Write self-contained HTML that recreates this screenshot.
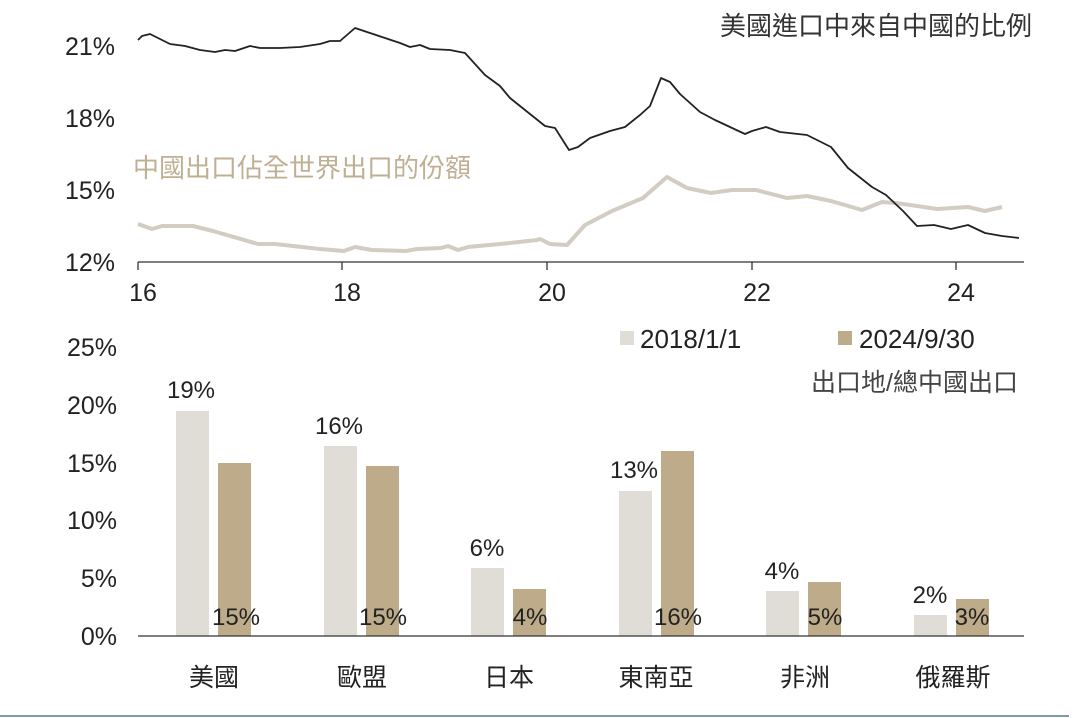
<!DOCTYPE html>
<html><head><meta charset="utf-8"><style>
html,body{margin:0;padding:0;background:#fff;}
svg{display:block;}
text{font-family:"Liberation Sans","Noto Sans CJK TC",sans-serif;fill:#222;}
</style></head><body>
<svg width="1077" height="718" viewBox="0 0 1077 718" xmlns="http://www.w3.org/2000/svg">
<rect width="1077" height="718" fill="#fff"/>
<!-- Top chart -->
<g font-size="25">
<text x="115" y="55" text-anchor="end">21%</text>
<text x="115" y="127" text-anchor="end">18%</text>
<text x="115" y="199" text-anchor="end">15%</text>
<text x="115" y="271" text-anchor="end">12%</text>
</g>
<line x1="138" y1="262" x2="1024" y2="262" stroke="#333" stroke-width="1.3"/>
<g stroke="#333" stroke-width="1.3">
<line x1="138" y1="262" x2="138" y2="270"/><line x1="342" y1="262" x2="342" y2="270"/>
<line x1="547" y1="262" x2="547" y2="270"/><line x1="752" y1="262" x2="752" y2="270"/>
<line x1="956" y1="262" x2="956" y2="270"/>
</g>
<g font-size="25" text-anchor="middle">
<text x="143" y="301">16</text><text x="347" y="301">18</text><text x="552" y="301">20</text>
<text x="757" y="301">22</text><text x="961" y="301">24</text>
</g>
<polyline fill="none" stroke="#d2ccc3" stroke-width="4" stroke-linejoin="round" points="138,224 152,229 162,226 193,226 213,231 258,244 275,244 320,249 344,251 355,247 372,250 406,251 417,249 441,248 448,246 458,250 468,247 510,243 537,240 540,239 550,244 567,245 585,225 612,211 643,198 667,177 687,188 711,193 732,190 756,190 787,198 807,196 831,201 862,210 882,202 896,203 917,206 937,209 968,207 985,211 1002,207"/>
<polyline fill="none" stroke="#222" stroke-width="1.8" stroke-linejoin="round" points="138,40 142,36 150,34 170,44 185,46 200,50 215,52 225,50 235,51 250,46 260,48 280,48 300,47 320,44 330,41 340,41 355,28 370,33 385,38 400,43 410,47 420,45 430,49 450,50 465,53 485,75 500,86 510,98 525,110 545,126 555,128 569,150 578,147 590,138 610,131 625,127 640,115 650,106 661,78 670,82 680,94 700,112 715,120 730,127 745,134 752,131 766,127 780,132 807,135 831,147 848,168 872,187 886,195 903,211 917,226 934,225 951,229 968,225 985,233 1002,236 1019,238"/>
<text x="1032" y="35" font-size="26" text-anchor="end" style="fill:#333">美國進口中來自中國的比例</text>
<text x="133" y="177" font-size="26" style="fill:#bfb094">中國出口佔全世界出口的份額</text>
<!-- Bottom chart -->
<g font-size="25">
<text x="117" y="356" text-anchor="end">25%</text>
<text x="117" y="414" text-anchor="end">20%</text>
<text x="117" y="472" text-anchor="end">15%</text>
<text x="117" y="529" text-anchor="end">10%</text>
<text x="117" y="587" text-anchor="end">5%</text>
<text x="117" y="645" text-anchor="end">0%</text>
</g>
<rect x="620" y="331" width="14" height="14" fill="#e0ddd6"/>
<text x="640" y="348" font-size="26">2018/1/1</text>
<rect x="838" y="331" width="14" height="14" fill="#bdab8a"/>
<text x="859" y="348" font-size="26">2024/9/30</text>
<text x="1018" y="391" font-size="25" text-anchor="end" style="fill:#444">出口地/總中國出口</text>
<g fill="#e0ddd6">
<rect x="176" y="411" width="33" height="225"/><rect x="324" y="446" width="33" height="190"/>
<rect x="471" y="568" width="33" height="68"/><rect x="619" y="491" width="33" height="145"/>
<rect x="766" y="591" width="33" height="45"/><rect x="914" y="615" width="33" height="21"/>
</g>
<g fill="#bdab8a">
<rect x="218" y="463" width="33" height="173"/><rect x="366" y="466" width="33" height="170"/>
<rect x="513" y="589" width="33" height="47"/><rect x="661" y="451" width="33" height="185"/>
<rect x="808" y="582" width="33" height="54"/><rect x="956" y="599" width="33" height="37"/>
</g>
<line x1="138" y1="636" x2="1024" y2="636" stroke="#333" stroke-width="1.3"/>
<g font-size="24" text-anchor="middle">
<text x="191" y="398">19%</text><text x="339" y="434">16%</text><text x="487" y="556">6%</text>
<text x="634" y="478">13%</text><text x="782" y="579">4%</text><text x="930" y="603">2%</text>
<text x="236" y="625">15%</text><text x="383" y="625">15%</text><text x="530" y="625">4%</text>
<text x="678" y="625">16%</text><text x="825" y="625">5%</text><text x="972" y="625">3%</text>
</g>
<g font-size="25" text-anchor="middle" style="fill:#333">
<text x="214" y="686">美國</text><text x="362" y="686">歐盟</text><text x="509" y="686">日本</text>
<text x="656" y="686">東南亞</text><text x="805" y="686">非洲</text><text x="953" y="686">俄羅斯</text>
</g>
<line x1="0" y1="716" x2="1069" y2="716" stroke="#7f9ca3" stroke-width="2"/>
</svg>
</body></html>
